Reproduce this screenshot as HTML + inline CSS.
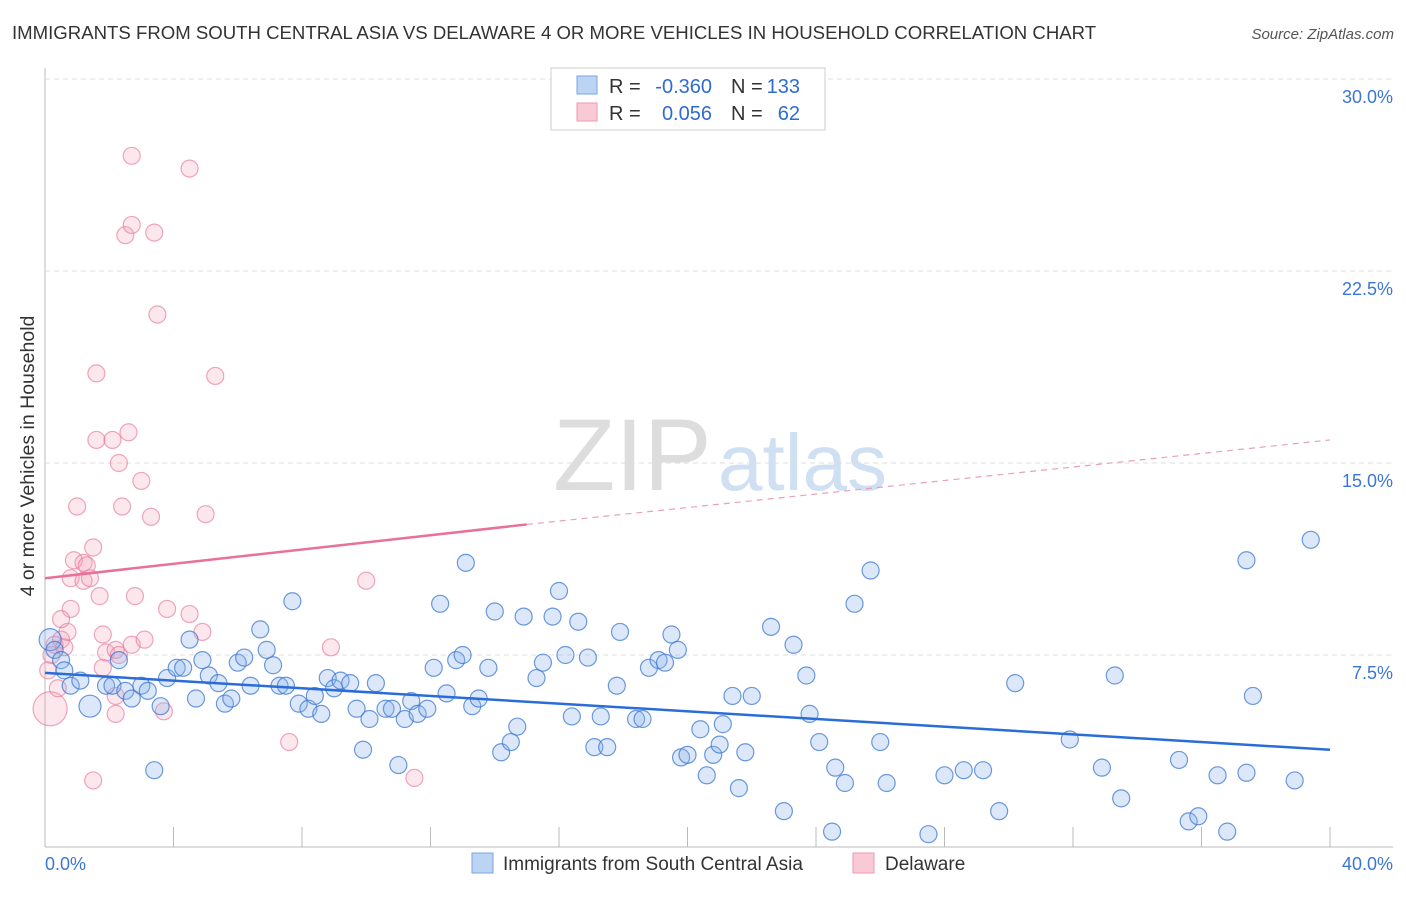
<!DOCTYPE html>
<html><head><meta charset="utf-8"><style>
body{margin:0;background:#fff;font-family:"Liberation Sans",sans-serif}
svg text{font-family:"Liberation Sans",sans-serif}
</style></head><body>
<svg id="c" width="1406" height="892" xmlns="http://www.w3.org/2000/svg">
<text x="12" y="39" font-size="18.6" fill="#333">IMMIGRANTS FROM SOUTH CENTRAL ASIA VS DELAWARE 4 OR MORE VEHICLES IN HOUSEHOLD CORRELATION CHART</text>
<text x="1394" y="39" font-size="15" fill="#555" text-anchor="end" font-style="italic">Source: ZipAtlas.com</text>
<text x="34" y="456" font-size="19.5" fill="#333" text-anchor="middle" transform="rotate(-90 34 456)">4 or more Vehicles in Household</text>
<g><text x="553" y="490" font-size="102" fill="#ddd" font-family="Liberation Serif">ZIP</text><text x="718" y="490" font-size="80" fill="#cfe0f3">atlas</text></g>
<g id="grid"></g><g id="marks"></g>
<g>
<rect x="551" y="68" width="274" height="62" fill="#fff" stroke="#ccc"/>
<rect x="577" y="76" width="20" height="18" fill="#bcd4f3" stroke="#7ba6e0"/>
<rect x="577" y="103" width="20" height="18" fill="#f9c9d6" stroke="#eb9ab1"/>
<text x="609" y="93" font-size="20" fill="#333">R =</text>
<text x="712" y="93" font-size="20" fill="#2f6bd1" text-anchor="end">-0.360</text>
<text x="731" y="93" font-size="20" fill="#333">N =</text>
<text x="800" y="93" font-size="20" fill="#2f6bd1" text-anchor="end">133</text>
<text x="609" y="120" font-size="20" fill="#333">R =</text>
<text x="712" y="120" font-size="20" fill="#2f6bd1" text-anchor="end">0.056</text>
<text x="731" y="120" font-size="20" fill="#333">N =</text>
<text x="800" y="120" font-size="20" fill="#2f6bd1" text-anchor="end">62</text>
</g>
<g>
<rect x="472" y="853" width="21" height="20" fill="#bcd4f3" stroke="#7ba6e0"/>
<text x="503" y="870" font-size="19" fill="#333">Immigrants from South Central Asia</text>
<rect x="853" y="853" width="21" height="20" fill="#f9c9d6" stroke="#eb9ab1"/>
<text x="885" y="870" font-size="19" fill="#333">Delaware</text>
</g>
</svg>
<script>
const blueX=[0.16,0.3,0.5,0.6,0.8,1.1,1.4,1.9,2.1,2.3,2.5,2.7,3.0,3.2,3.4,3.6,3.8,4.1,4.3,4.5,4.7,4.9,5.1,5.4,5.6,5.8,6.0,6.2,6.4,6.7,6.9,7.1,7.3,7.5,7.7,7.9,8.2,8.4,8.6,8.8,9.0,9.2,9.5,9.7,9.9,10.1,10.3,10.6,10.8,11.0,11.2,11.4,11.6,11.9,12.1,12.3,12.5,12.8,13.0,13.1,13.3,13.5,13.8,14.0,14.2,14.5,14.7,14.9,15.3,15.5,15.8,16.0,16.2,16.4,16.6,16.9,17.1,17.3,17.5,17.8,17.9,18.4,18.6,18.8,19.1,19.3,19.5,19.7,19.8,20.0,20.4,20.6,20.8,21.0,21.1,21.4,21.6,21.8,22.0,22.6,23.0,23.3,23.7,23.8,24.1,24.5,24.6,24.9,25.2,25.7,26.0,26.2,27.5,28.0,28.6,29.2,29.7,30.2,31.9,32.9,33.3,33.5,35.3,35.6,35.9,36.5,36.8,37.4,37.4,37.6,38.9,39.4];
const blueY=[8.1,7.7,7.3,6.9,6.3,6.5,5.5,6.3,6.3,7.3,6.1,5.8,6.3,6.1,3.0,5.5,6.6,7.0,7.0,8.1,5.8,7.3,6.7,6.4,5.6,5.8,7.2,7.4,6.3,8.5,7.7,7.1,6.3,6.3,9.6,5.6,5.4,5.9,5.2,6.6,6.2,6.5,6.4,5.4,3.8,5.0,6.4,5.4,5.4,3.2,5.0,5.7,5.2,5.4,7.0,9.5,6.0,7.3,7.5,11.1,5.5,5.8,7.0,9.2,3.7,4.1,4.7,9.0,6.6,7.2,9.0,10.0,7.5,5.1,8.8,7.4,3.9,5.1,3.9,6.3,8.4,5.0,5.0,7.0,7.3,7.2,8.3,7.7,3.5,3.6,4.6,2.8,3.6,4.0,4.8,5.9,2.3,3.7,5.9,8.6,1.4,7.9,6.7,5.2,4.1,0.6,3.1,2.5,9.5,10.8,4.1,2.5,0.5,2.8,3.0,3.0,1.4,6.4,4.2,3.1,6.7,1.9,3.4,1.0,1.2,2.8,0.6,11.2,2.9,5.9,2.6,12.0];
const pinkX=[0.16,0.1,0.2,0.3,0.5,0.6,0.7,0.8,0.5,0.9,0.8,1.0,1.2,1.2,1.3,1.4,1.5,1.5,1.6,1.6,1.7,1.8,1.8,1.9,2.1,2.2,2.3,2.3,2.4,2.5,2.6,2.7,2.7,2.7,2.8,3.0,3.1,3.3,3.4,3.5,3.7,3.8,4.5,4.5,4.9,5.0,5.3,7.6,8.9,10.0,11.5,0.4,2.2,2.2];
const pinkY=[5.4,6.9,7.5,7.9,8.1,7.8,8.4,9.3,8.9,11.2,10.5,13.3,11.1,10.4,11.0,10.5,11.7,2.6,15.9,18.5,9.8,8.3,7.0,7.6,15.9,7.7,15.0,7.5,13.3,23.9,16.2,27.0,7.9,24.3,9.8,14.3,8.1,12.9,24.0,20.8,5.3,9.3,26.5,9.1,8.4,13.0,18.4,4.1,7.8,10.4,2.7,6.2,5.9,5.2];
const xTicks=[0,4,8,12,16,20,24,28,32,36,40];
const yTicks=[7.5,15,22.5,30];
const blueTrend=[6.8,3.8], pinkTrend=[10.5,12.6,15.9];
const X=v=>45+v*32.125, Y=v=>847-v*25.6;
const NS='http://www.w3.org/2000/svg';
const g=document.getElementById('grid'), m=document.getElementById('marks');
function mk(p,t,a){const e=document.createElementNS(NS,t);for(const k in a)e.setAttribute(k,a[k]);p.appendChild(e);return e;}
let ax=mk(g,'line',{x1:45,y1:68,x2:45,y2:847,stroke:'#bbb'});


let bx=mk(g,'line',{x1:45,y1:847,x2:1393,y2:847,stroke:'#bbb'});


xTicks.forEach(t=>{const l=mk(g,'line',{x1:X(t),y1:827,x2:X(t),y2:847,stroke:'#bbb'});

});
[[0,'0.0%',45,'start'],[40,'40.0%',1393,'end']].forEach(a=>{const t=mk(g,'text',{x:a[2],y:870,'font-size':18,fill:'#3b76d6','text-anchor':a[3]});t.textContent=a[1];

});
yTicks.forEach(v=>{const l=mk(g,'line',{x1:45,y1:Y(v),x2:1393,y2:Y(v),stroke:'#ddd','stroke-dasharray':'5,4'});


const t=mk(g,'text',{x:1393,y:Y(v)+24,'font-size':18,fill:'#3b76d6','text-anchor':'end'});t.textContent=v.toFixed(1)+'%';

});
pinkX.forEach((x,i)=>{const c=mk(m,'circle',{cx:X(x),cy:Y(pinkY[i]),r:i==0?17:8.5,fill:'rgba(244,160,185,0.25)',stroke:'rgba(230,120,155,0.65)','stroke-width':1.2});

});
blueX.forEach((x,i)=>{const c=mk(m,'circle',{cx:X(x),cy:Y(blueY[i]),r:(i==0||i==6)?11:8.5,fill:'rgba(140,180,235,0.3)',stroke:'rgba(60,120,210,0.75)','stroke-width':1.2});

});
let bl=mk(m,'line',{x1:X(0),y1:Y(blueTrend[0]),x2:X(40),y2:Y(blueTrend[1]),stroke:'#2a6dd8','stroke-width':2.5});


let pl=mk(m,'line',{x1:X(0),y1:Y(pinkTrend[0]),x2:X(15),y2:Y(pinkTrend[1]),stroke:'#e8719a','stroke-width':2.5});


let pd=mk(m,'line',{x1:X(15),y1:Y(pinkTrend[1]),x2:X(40),y2:Y(pinkTrend[2]),stroke:'#eaa0b8','stroke-width':1.2,'stroke-dasharray':'6,5'});


</script>
</body></html>
